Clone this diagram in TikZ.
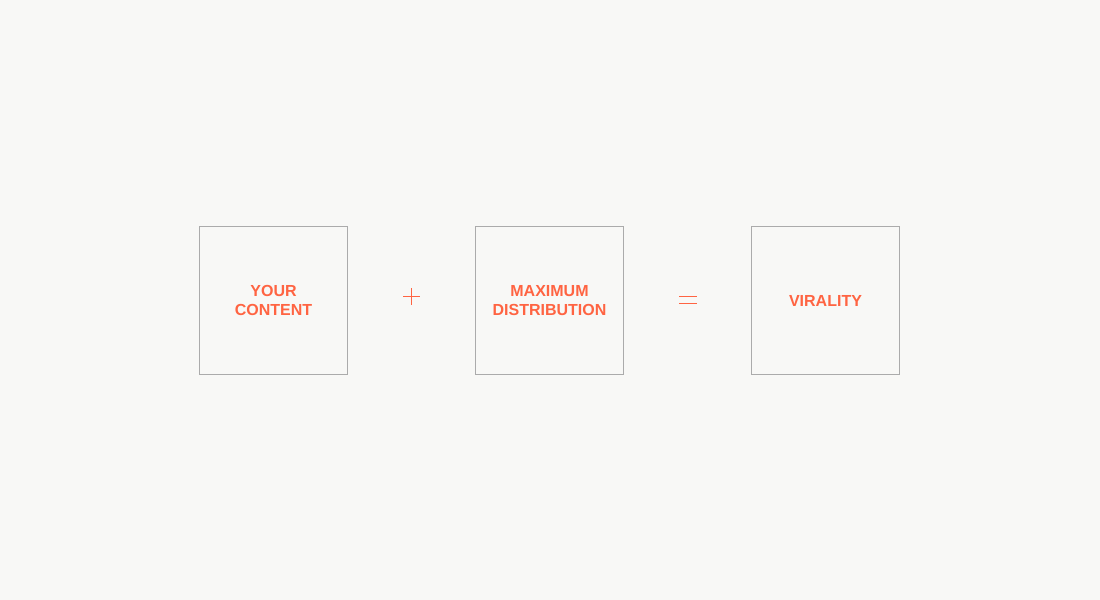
\documentclass[tikz,border=0pt]{standalone}
\usepackage{fontspec}
\setmainfont{Liberation Sans}
\definecolor{bg}{HTML}{F8F8F6}
\definecolor{boxline}{HTML}{ABABAB}
\definecolor{accent}{HTML}{FF6442}
\begin{document}
\begin{tikzpicture}[x=0.75pt,y=-0.75pt,
  box/.style={draw=boxline,line width=0.75pt,minimum width=111pt,minimum height=111pt,inner sep=0pt,
    font=\bfseries\fontsize{12}{13.9}\selectfont,text=accent,align=center},
  opline/.style={draw=accent,line width=1.1pt}]
\fill[bg] (0,0) rectangle (1100,600);
\useasboundingbox (0,0) rectangle (1100,600);
\node[box] (a) at (273.5,300.5) {YOUR\\CONTENT};
\node[box] (b) at (549.5,300.5) {MAXIMUM\\DISTRIBUTION};
\node[box] (c) at (825.5,300.5) {VIRALITY};
\coordinate (plus) at (411.7,296.3);
\coordinate (eq) at (688,300.2);
\draw[opline] ([xshift=-6.4pt]plus) -- ([xshift=6.4pt]plus);
\draw[opline] ([yshift=-6.4pt]plus) -- ([yshift=6.4pt]plus);
\draw[opline] ([xshift=-6.5pt,yshift=2.6pt]eq) -- ([xshift=6.5pt,yshift=2.6pt]eq);
\draw[opline] ([xshift=-6.5pt,yshift=-2.6pt]eq) -- ([xshift=6.5pt,yshift=-2.6pt]eq);
\end{tikzpicture}
\end{document}
